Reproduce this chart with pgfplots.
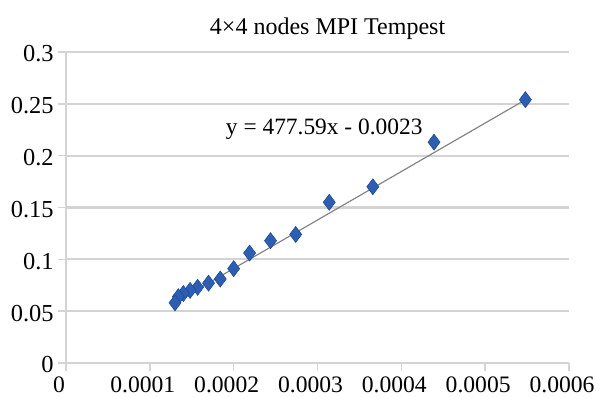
\documentclass[border=0pt]{standalone}
\usepackage{pgfplots}
\pgfplotsset{compat=1.18}
\usepackage{fontspec}
\setmainfont{Liberation Serif}
\definecolor{mk}{HTML}{2C5FB3}
\definecolor{mkd}{HTML}{1D4C9C}
\definecolor{grd}{HTML}{D4D4D4}
\definecolor{trend}{HTML}{858585}
\begin{document}
\begin{tikzpicture}
\fontsize{12}{14}\selectfont
\begin{axis}[
  scale only axis,
  width=251.5pt, height=155.5pt,
  xmin=0, xmax=0.0006, ymin=0, ymax=0.3,
  xtick={0,0.0001,0.0002,0.0003,0.0004,0.0005,0.0006},
  xticklabels={0,0.0001,0.0002,0.0003,0.0004,0.0005,0.0006},
  ytick={0,0.05,0.1,0.15,0.2,0.25,0.3},
  yticklabels={0,0.05,0.1,0.15,0.2,0.25,0.3},
  scaled x ticks=false, scaled y ticks=false,
  axis line style={draw=grd, line width=0.6pt},
  axis x line*=bottom, axis y line*=left,
  ymajorgrids, grid style={draw=grd, line width=1.1pt},
  tick align=outside, major tick length=4pt,
  tick style={draw=grd, line width=0.8pt},
  xticklabel style={font=\fontsize{11.8}{14}\selectfont, xshift=-3.5pt, yshift=1.5pt},
  yticklabel style={font=\fontsize{12.2}{14}\selectfont, xshift=2pt, yshift=-1pt},
  clip=false,
]
\addplot[trend, line width=0.6pt] coordinates {(0.000128,0.0575) (0.000545,0.2525)};
\addplot[only marks, mark=diamond*, mark size=4pt,
  mark options={fill=mk, draw=mkd, line width=0.3pt}] coordinates {
(0.000548,0.254)
(0.000439,0.213)
(0.000366,0.170)
(0.000314,0.155)
(0.000274,0.124)
(0.000244,0.118)
(0.000219,0.106)
(0.000200,0.091)
(0.000184,0.081)
(0.000170,0.077)
(0.000157,0.073)
(0.000148,0.070)
(0.000140,0.067)
(0.000134,0.064)
(0.000130,0.058)
};
\node[font=\fontsize{11.7}{13}\selectfont] at (axis cs:0.000308,0.225) {y = 477.59x - 0.0023};
\node[font=\fontsize{12}{14}\selectfont] at ([yshift=11.5pt]rel axis cs:0.52,1) {4×4 nodes MPI Tempest};
\end{axis}
\pgfresetboundingbox
\path ([xshift=-33pt,yshift=-17.5pt]current axis.south west) rectangle ([xshift=13.5pt,yshift=26pt]current axis.north east);
\end{tikzpicture}
\end{document}
